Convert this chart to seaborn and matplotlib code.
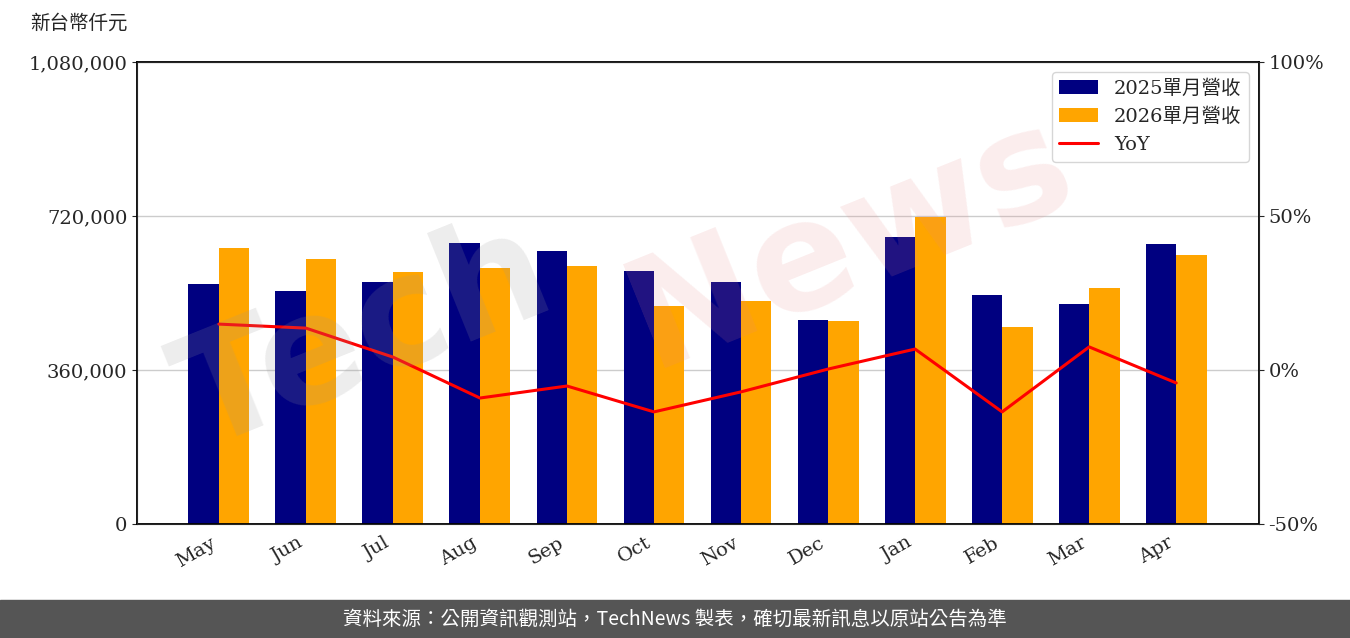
import matplotlib
matplotlib.use("Agg")
import matplotlib.pyplot as plt
import numpy as np
import pandas as pd
import seaborn as sns

months = ["May", "Jun", "Jul", "Aug", "Sep", "Oct", "Nov", "Dec", "Jan", "Feb", "Mar", "Apr"]
rev_2025 = [561000, 545000, 566000, 657000, 638000, 591000, 566000, 477000, 671000, 535000, 514000, 655000]
rev_2026 = [645000, 619000, 589000, 598000, 603000, 510000, 521000, 475000, 718000, 460000, 552000, 629000]
yoy = [14.9, 13.6, 4.2, -9.1, -5.2, -13.6, -7.1, 0.3, 6.8, -13.6, 7.5, -4.2]

sns.set_style("white")
plt.rcParams["font.family"] = ["DejaVu Serif", "Noto Sans CJK TC"]

df = pd.DataFrame({
    "month": months * 2,
    "value": rev_2025 + rev_2026,
    "series": ["2025單月營收"] * 12 + ["2026單月營收"] * 12,
})

fig = plt.figure(figsize=(13.5, 6.38), dpi=100)
ax = fig.add_axes([0.1015, 0.1787, 0.831, 0.7241])
sns.barplot(data=df, x="month", y="value", hue="series",
            palette=["#000080", "#FFA500"], width=0.7, ax=ax, saturation=1,
            linewidth=0)
ax.set_ylim(0, 1080000)
ax.set_yticks([0, 360000, 720000, 1080000])
ax.set_yticklabels([f"{v:,}" for v in [0, 360000, 720000, 1080000]], fontsize=14)
ax.yaxis.grid(True, color="#cccccc", linewidth=1)
ax.set_axisbelow(True)
ax.set_xlabel("")
ax.set_ylabel("")
ax.set_xlim(-0.94, 11.95)
plt.setp(ax.get_xticklabels(), rotation=30, ha="right", fontsize=14)
for s in ax.spines.values():
    s.set_color("black")
    s.set_linewidth(1.3)

ax2 = ax.twinx()
line, = ax2.plot(range(12), yoy, color="red", linewidth=2.2, label="YoY")
ax2.set_ylim(-50, 100)
ax2.set_yticks([-50, 0, 50, 100])
ax2.set_yticklabels(["-50%", "0%", "50%", "100%"], fontsize=14)

h, l = ax.get_legend_handles_labels()
ax.get_legend().remove()
ax2.legend(h + [line], l + ["YoY"], loc="upper right",
           prop={"family": ["DejaVu Serif", "Noto Sans CJK TC"], "size": 14})

fig.text(0.022, 0.955, "新台幣仟元", fontsize=14, family=["Noto Sans CJK TC"])
fig.text(0.27, 0.47, "Tech", fontsize=110, color="#999999", alpha=0.18,
         rotation=22, ha="center", va="center", weight="bold", family="DejaVu Sans")
fig.text(0.63, 0.62, "News", fontsize=110, color="#e88888", alpha=0.15,
         rotation=22, ha="center", va="center", weight="bold", family="DejaVu Sans")

fig.patches.append(plt.Rectangle((0, 0), 1, 0.06, transform=fig.transFigure,
                                 color="#555555", zorder=0))
fig.text(0.5, 0.03, "資料來源：公開資訊觀測站，TechNews 製表，確切最新訊息以原站公告為準",
         color="white", fontsize=14, ha="center", va="center",
         family=["Noto Sans CJK TC", "DejaVu Sans"])

fig.savefig("out.png", dpi=100)
